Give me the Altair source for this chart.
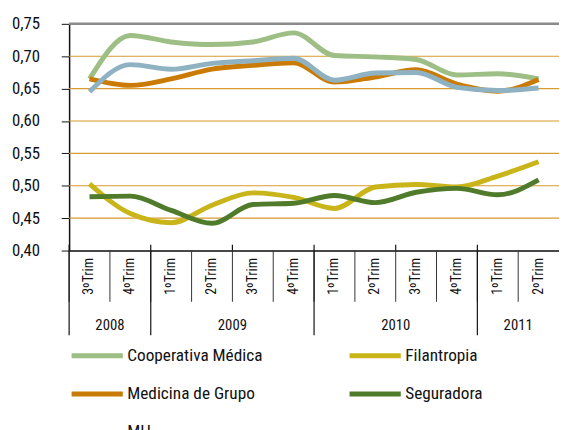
import altair as alt
import pandas as pd

quarters = ["3ºTrim", "4ºTrim", "1ºTrim", "2ºTrim", "3ºTrim", "4ºTrim",
            "1ºTrim", "2ºTrim", "3ºTrim", "4ºTrim", "1ºTrim", "2ºTrim"]
years = [2008, 2008, 2009, 2009, 2009, 2009, 2010, 2010, 2010, 2010, 2011, 2011]

series_names = ["Cooperativa Médica", "Filantropia", "Medicina de Grupo", "Seguradora", "MH"]
series_colors = ["#9dbf86", "#c9b519", "#c97b05", "#4f7b2b", "#8fb2c2"]
# legend is laid out column by column: first column, then second
legend_order = ["Cooperativa Médica", "Medicina de Grupo", "MH", "Filantropia", "Seguradora"]

cooperativa = [0.665, 0.732, 0.722, 0.718, 0.722, 0.736, 0.701, 0.699, 0.695, 0.671, 0.673, 0.665]
filantropia = [0.503, 0.457, 0.443, 0.470, 0.489, 0.482, 0.465, 0.498, 0.502, 0.498, 0.515, 0.537]
medicina = [0.665, 0.655, 0.665, 0.680, 0.686, 0.690, 0.660, 0.668, 0.679, 0.657, 0.646, 0.664]
seguradora = [0.483, 0.484, 0.462, 0.442, 0.471, 0.473, 0.485, 0.474, 0.490, 0.496, 0.486, 0.509]
mh = [0.645, 0.687, 0.680, 0.689, 0.693, 0.697, 0.663, 0.674, 0.675, 0.652, 0.647, 0.651]

y_ticks = [0.40, 0.45, 0.50, 0.55, 0.60, 0.65, 0.70, 0.75]
grid_vals = [0.45, 0.50, 0.55, 0.60, 0.65, 0.70]
top_line = [0.75]
year_labels = [2008, 2009, 2010, 2011]
year_center_keys = ["4ºTrim 2008", "3ºTrim 2009", "3ºTrim 2010", "2ºTrim 2011"]

FONT = "Liberation Sans Narrow, Arial Narrow, Roboto Condensed, Roboto, sans-serif"
W, H = 497, 230

keys = [f"{q} {y}" for q, y in zip(quarters, years)]
all_vals = [cooperativa, filantropia, medicina, seguradora, mh]
rows = []
for name, vals in zip(series_names, all_vals):
    for k, v in zip(keys, vals):
        rows.append({"key": k, "serie": name, "valor": v})
df = pd.DataFrame(rows)

sep_df = pd.DataFrame({"key": keys, "idx": list(range(len(keys))), "ano": years})
year_start = sep_df.drop_duplicates("ano")
top_ticks = sep_df[sep_df["idx"] % 2 == 0]
year_df = pd.DataFrame({"ano": [str(y) for y in year_labels], "key": year_center_keys})
grid_df = pd.DataFrame({"v": grid_vals})
top_df = pd.DataFrame({"v": top_line})

x_scale = alt.Scale(type="band", domain=keys, paddingInner=0, paddingOuter=0)
y_scale = alt.Scale(domain=[0.40, 0.75], nice=False, zero=False)

y_axis = alt.Axis(title=None, values=y_ticks, grid=False, tickSize=8, tickColor="#111",
                  domainColor="#111", domainWidth=1.5, labelPadding=22, labelFontSize=17,
                  labelFont=FONT, labelColor="#111",
                  labelExpr="replace(format(datum.value, '.2f'), '.', ',')")
x_axis = alt.Axis(title=None, labelAngle=270, labelAlign="right", labelBaseline="middle",
                  labelExpr="split(datum.label, ' ')[0]", labelPadding=7, labelFontSize=14,
                  labelFont=FONT, labelColor="#111", ticks=False, domainColor="#111",
                  domainWidth=1.5)

grid = alt.Chart(grid_df).mark_rule(color="#d99a2f", strokeWidth=1.2).encode(
    y=alt.Y("v:Q", scale=y_scale, axis=y_axis)
)
top = alt.Chart(top_df).mark_rule(color="#8a8a8a", strokeWidth=2.5).encode(
    y=alt.Y("v:Q", scale=y_scale, axis=y_axis)
)

lines = alt.Chart(df).mark_line(strokeWidth=5, interpolate="monotone").encode(
    x=alt.X("key:O", scale=x_scale, bandPosition=0.5, axis=x_axis),
    y=alt.Y("valor:Q", scale=y_scale, axis=y_axis),
    color=alt.Color("serie:N", sort=legend_order,
                    scale=alt.Scale(domain=legend_order,
                                    range=[series_colors[series_names.index(s)] for s in legend_order]),
                    legend=alt.Legend(title=None, orient="none", legendX=0, legendY=308, columns=2,
                                      symbolType="M-1,0L1,0", symbolSize=2700, symbolStrokeWidth=5,
                                      labelFontSize=17.5, labelFont=FONT, labelColor="#111",
                                      labelOffset=2, columnPadding=77, rowPadding=-2)),
)

short_sep = alt.Chart(sep_df).mark_rule(color="#333", strokeWidth=1).encode(
    x=alt.X("key:O", scale=x_scale, bandPosition=0, axis=x_axis),
    y=alt.value(H), y2=alt.value(H + 52),
)
long_sep = alt.Chart(year_start).mark_rule(color="#111", strokeWidth=1.2).encode(
    x=alt.X("key:O", scale=x_scale, bandPosition=0, axis=x_axis),
    y=alt.value(H), y2=alt.value(H + 86),
)
up_ticks = alt.Chart(top_ticks).mark_rule(color="#111", strokeWidth=1.2).encode(
    x=alt.X("key:O", scale=x_scale, bandPosition=0, axis=x_axis),
    y=alt.value(H - 6), y2=alt.value(H),
)
year_text = alt.Chart(year_df).mark_text(font=FONT, fontSize=15, color="#111", baseline="middle").encode(
    x=alt.X("key:O", scale=x_scale, bandPosition=0, axis=x_axis),
    y=alt.value(H + 76),
    text="ano:N",
)

chart = alt.layer(grid, top, short_sep, long_sep, up_ticks, lines, year_text).properties(
    width=W, height=H,
    autosize=alt.AutoSizeParams(type="none"),
    padding={"left": 62, "top": 13, "right": 0, "bottom": 179},
).configure_view(stroke=None).configure(font=FONT)

chart.save("out.html", embed_options={"renderer": "svg", "actions": False})
